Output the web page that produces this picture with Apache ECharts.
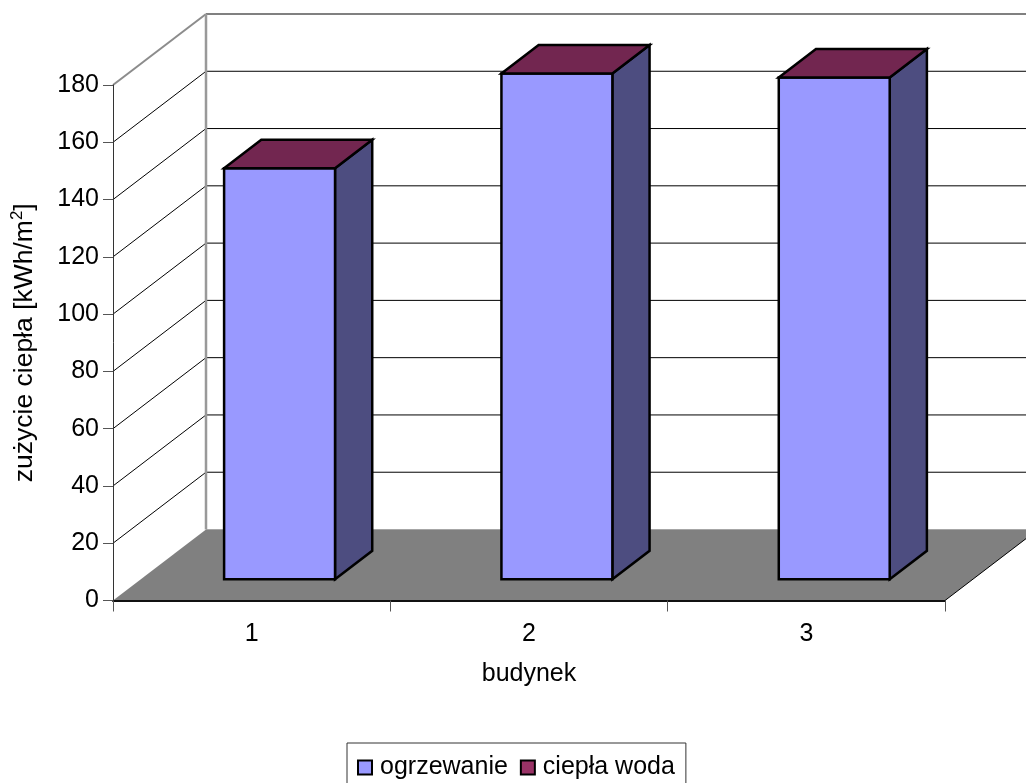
<!DOCTYPE html>
<html>
<head>
<meta charset="utf-8">
<title>Zużycie ciepła</title>
<script src="https://cdn.jsdelivr.net/npm/echarts@6/dist/echarts.min.js"></script>
<style>
  html, body { margin: 0; padding: 0; background: #fff; }
  #chart { width: 1026px; height: 783px; }
</style>
</head>
<body>
<div id="chart"></div>
<script>
// Heat use per building, split into space heating and hot water
const buildings = ['1', '2', '3'];
const heating = [143.5, 176.6, 175.2];
const hotWater = [0, 0, 0];
const valueTicks = [0, 20, 40, 60, 80, 100, 120, 140, 160, 180];

// Oblique projection of the box: depth vector in pixels, bar placement inside the depth
const DEPTH_X = 93;
const DEPTH_Y = 71;
const BAR_DEPTH_FRONT = 0.3;
const BAR_DEPTH_BACK = 0.7;
const BAR_WIDTH_SHARE = 0.4;

const FONT = '"Liberation Sans", Arial, sans-serif';
const FACE_FRONT = '#9999FF';
const FACE_SIDE = '#4D4D80';
const FACE_TOP = '#722650';
const KEY_WATER = '#993366';
const FLOOR = '#808080';

const chart = echarts.init(document.getElementById('chart'), null, { renderer: 'canvas' });

const line = (x1, y1, x2, y2, stroke, lineWidth) => ({
  type: 'line',
  shape: { x1, y1, x2, y2 },
  style: { stroke, lineWidth, fill: null }
});
const face = (points, fill) => ({
  type: 'polygon',
  shape: { points },
  style: { fill, stroke: '#000', lineWidth: 2.5, lineJoin: 'miter' }
});

// Floor, back wall and side wall, with the value grid carried across both walls
function renderRoom(params, api) {
  const box = params.coordSys;
  const left = box.x;
  const right = box.x + box.width;
  const base = api.coord([0, 0])[1];
  const top = api.coord([0, valueTicks[valueTicks.length - 1]])[1];
  const children = [];

  children.push({
    type: 'polygon',
    shape: { points: [
      [left, base], [right, base],
      [right + DEPTH_X, base - DEPTH_Y], [left + DEPTH_X, base - DEPTH_Y]
    ] },
    style: { fill: FLOOR }
  });
  children.push(line(left + DEPTH_X, base - DEPTH_Y, right + DEPTH_X, base - DEPTH_Y, '#a6a6a6', 1));
  children.push(line(right, base, right + DEPTH_X, base - DEPTH_Y, '#000', 1));

  valueTicks.slice(1).forEach(function (tick, i, list) {
    const y = api.coord([0, tick])[1];
    const last = i === list.length - 1;
    children.push(line(left + DEPTH_X, y - DEPTH_Y, right + DEPTH_X, y - DEPTH_Y, last ? '#808080' : '#000', last ? 2 : 1));
    if (last) {
      children.push(line(left, y, left + DEPTH_X, y - DEPTH_Y, '#8c8c8c', 2));
    } else {
      children.push(line(left, y, left + DEPTH_X, y - DEPTH_Y, '#000', 1));
    }
  });
  children.push(line(left + DEPTH_X, top - DEPTH_Y, left + DEPTH_X, base - DEPTH_Y, '#999', 2.5));

  return { type: 'group', children };
}

// Horizontal extent and depth shifts of a column in category i
function columnFrame(api, params) {
  const i = api.value(0);
  const share = params.coordSys.width / buildings.length;
  const cx = api.coord([i, 0])[0];
  const w = share * BAR_WIDTH_SHARE;
  return {
    x0: cx - w / 2 + DEPTH_X * BAR_DEPTH_FRONT,
    x1: cx + w / 2 + DEPTH_X * BAR_DEPTH_FRONT,
    yShift: DEPTH_Y * BAR_DEPTH_FRONT,
    dx: DEPTH_X * (BAR_DEPTH_BACK - BAR_DEPTH_FRONT),
    dy: DEPTH_Y * (BAR_DEPTH_BACK - BAR_DEPTH_FRONT)
  };
}

// Front and side faces of the heating part of a column
function renderHeating(params, api) {
  const f = columnFrame(api, params);
  const yBase = api.coord([0, 0])[1] - f.yShift;
  const yTop = api.coord([0, api.value(1)])[1] - f.yShift;
  return {
    type: 'group',
    children: [
      face([[f.x1, yBase], [f.x1 + f.dx, yBase - f.dy], [f.x1 + f.dx, yTop - f.dy], [f.x1, yTop]], FACE_SIDE),
      face([[f.x0, yBase], [f.x1, yBase], [f.x1, yTop], [f.x0, yTop]], FACE_FRONT)
    ]
  };
}

// Top cap of the stack, coloured by the hot water series
function renderWaterCap(params, api) {
  const f = columnFrame(api, params);
  const yTop = api.coord([0, api.value(1)])[1] - f.yShift;
  return face([[f.x0, yTop], [f.x1, yTop], [f.x1 + f.dx, yTop - f.dy], [f.x0 + f.dx, yTop - f.dy]], FACE_TOP);
}

chart.setOption({
  animation: false,
  backgroundColor: '#fff',
  textStyle: { fontFamily: FONT },
  grid: { left: 113, right: 81, top: 85, bottom: 182.5, containLabel: false, outerBoundsMode: 'none' },
  xAxis: {
    type: 'category',
    data: buildings,
    name: 'budynek',
    nameLocation: 'middle',
    nameGap: 61,
    nameTextStyle: { fontFamily: FONT, fontSize: 25, color: '#000' },
    z: 4,
    axisLine: { lineStyle: { color: '#111', width: 2 } },
    axisTick: { show: true, length: 11, lineStyle: { color: '#555', width: 1 } },
    axisLabel: { fontFamily: FONT, fontSize: 25, color: '#000', margin: 21 },
    splitLine: { show: false }
  },
  yAxis: {
    type: 'value',
    min: 0,
    max: 180,
    interval: 20,
    name: '{t|zużycie ciepła [kWh/m}{s|2}{t|]}',
    nameLocation: 'middle',
    nameGap: 72,
    nameRotate: 90,
    nameTextStyle: {
      rich: {
        t: { fontFamily: FONT, fontSize: 26.5, color: '#000', lineHeight: 32 },
        s: { fontFamily: FONT, fontSize: 17, color: '#000', lineHeight: 17, verticalAlign: 'top' }
      }
    },
    z: 4,
    axisLine: { show: true, lineStyle: { color: '#333', width: 1 } },
    axisTick: { show: true, length: 10, lineStyle: { color: '#555', width: 1 } },
    axisLabel: { fontFamily: FONT, fontSize: 25, color: '#000', margin: 14 },
    splitLine: { show: false }
  },
  legend: {
    left: 347,
    top: 743,
    orient: 'horizontal',
    padding: [12, 11, 14, 10],
    itemGap: 12,
    itemWidth: 14,
    itemHeight: 14,
    backgroundColor: '#fff',
    borderColor: '#333',
    borderWidth: 1,
    selectedMode: false,
    textStyle: { fontFamily: FONT, fontSize: 25, color: '#000', padding: [0, 0, 0, 3] },
    data: [
      { name: 'ogrzewanie', icon: 'rect', itemStyle: { color: FACE_FRONT, borderColor: '#000', borderWidth: 2 } },
      { name: 'ciepła woda', icon: 'rect', itemStyle: { color: KEY_WATER, borderColor: '#000', borderWidth: 2 } }
    ]
  },
  series: [
    {
      name: 'room',
      type: 'custom',
      z: 1,
      silent: true,
      renderItem: renderRoom,
      data: [[0, 0]]
    },
    {
      name: 'ogrzewanie',
      type: 'custom',
      z: 2,
      renderItem: renderHeating,
      encode: { x: 0, y: 1 },
      itemStyle: { color: FACE_FRONT },
      data: heating.map((v, i) => [i, v])
    },
    {
      name: 'ciepła woda',
      type: 'custom',
      z: 3,
      renderItem: renderWaterCap,
      encode: { x: 0, y: 1 },
      itemStyle: { color: KEY_WATER },
      data: heating.map((v, i) => [i, v + hotWater[i]])
    }
  ]
});
</script>
</body>
</html>
